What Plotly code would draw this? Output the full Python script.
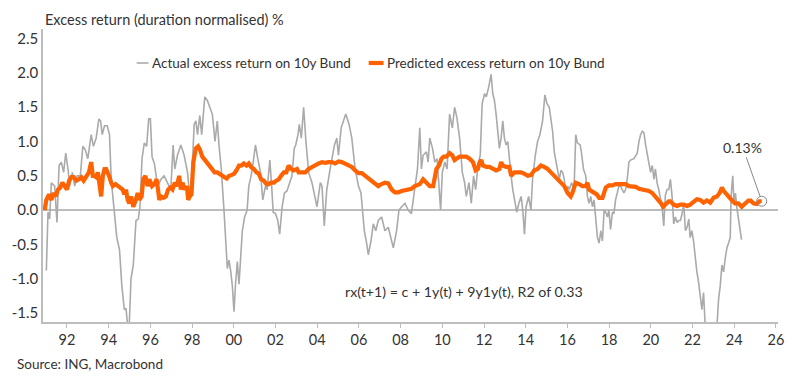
import plotly.graph_objects as go

# ---------------- data ----------------
actual_year = [
    1991.01, 1991.09, 1991.17, 1991.25, 1991.41, 1991.52, 1991.62, 1991.73, 1991.84, 1991.94,
    1992.05, 1992.13, 1992.26, 1992.37, 1992.49, 1992.64, 1992.76, 1992.88, 1993.00, 1993.16,
    1993.27, 1993.40, 1993.53, 1993.61, 1993.69, 1993.80, 1993.93, 1994.04, 1994.12, 1994.25,
    1994.39, 1994.52, 1994.63, 1994.75, 1994.83, 1994.91, 1994.99, 1995.07, 1995.18, 1995.31,
    1995.42, 1995.50, 1995.60, 1995.71, 1995.82, 1995.92, 1996.00, 1996.08, 1996.19, 1996.35,
    1996.51, 1996.66, 1996.82, 1996.98, 1997.09, 1997.17, 1997.30, 1997.46, 1997.62, 1997.78,
    1997.89, 1997.99, 1998.10, 1998.18, 1998.26, 1998.37, 1998.46, 1998.61, 1998.73, 1998.86,
    1998.97, 1999.10, 1999.21, 1999.29, 1999.40, 1999.53, 1999.61, 1999.69, 1999.77, 1999.85,
    1999.93, 2000.01, 2000.09, 2000.17, 2000.25, 2000.33, 2000.41, 2000.52, 2000.64, 2000.72,
    2000.83, 2000.93, 2001.04, 2001.15, 2001.28, 2001.39, 2001.52, 2001.60, 2001.73, 2001.81,
    2001.89, 2002.00, 2002.11, 2002.20, 2002.32, 2002.43, 2002.55, 2002.68, 2002.79, 2002.90,
    2002.97, 2003.08, 2003.14, 2003.24, 2003.35, 2003.46, 2003.59, 2003.75, 2003.99, 2004.15,
    2004.23, 2004.34, 2004.46, 2004.62, 2004.83, 2004.94, 2005.02, 2005.15, 2005.37, 2005.53,
    2005.66, 2005.82, 2005.98, 2006.10, 2006.26, 2006.38, 2006.45, 2006.58, 2006.69, 2006.81,
    2006.93, 2007.09, 2007.25, 2007.41, 2007.54, 2007.65, 2007.81, 2007.92, 2008.05, 2008.21,
    2008.36, 2008.52, 2008.65, 2008.81, 2008.92, 2009.00, 2009.08, 2009.24, 2009.32, 2009.40,
    2009.53, 2009.64, 2009.75, 2009.84, 2009.92, 2010.00, 2010.12, 2010.23, 2010.35, 2010.48,
    2010.59, 2010.70, 2010.83, 2010.96, 2011.07, 2011.15, 2011.28, 2011.39, 2011.50, 2011.60,
    2011.71, 2011.82, 2011.91, 2012.03, 2012.11, 2012.23, 2012.34, 2012.42, 2012.50, 2012.58,
    2012.66, 2012.74, 2012.82, 2012.90, 2012.98, 2013.06, 2013.14, 2013.22, 2013.30, 2013.38,
    2013.49, 2013.57, 2013.67, 2013.78, 2013.86, 2013.94, 2014.02, 2014.14, 2014.25, 2014.33,
    2014.46, 2014.57, 2014.68, 2014.81, 2014.92, 2015.02, 2015.13, 2015.21, 2015.29, 2015.37,
    2015.45, 2015.53, 2015.61, 2015.69, 2015.77, 2015.85, 2015.93, 2016.01, 2016.09, 2016.20,
    2016.32, 2016.40, 2016.48, 2016.61, 2016.67, 2016.77, 2016.88, 2016.96, 2017.04, 2017.12,
    2017.20, 2017.28, 2017.36, 2017.44, 2017.52, 2017.60, 2017.68, 2017.76, 2017.84, 2017.92,
    2017.99, 2018.07, 2018.16, 2018.23, 2018.31, 2018.39, 2018.47, 2018.55, 2018.63, 2018.71,
    2018.79, 2018.87, 2018.95, 2019.03, 2019.19, 2019.35, 2019.43, 2019.51, 2019.59, 2019.67,
    2019.75, 2019.83, 2019.91, 2019.99, 2020.07, 2020.15, 2020.22, 2020.30, 2020.38, 2020.46,
    2020.54, 2020.62, 2020.70, 2020.78, 2020.86, 2020.94, 2021.02, 2021.10, 2021.18, 2021.26,
    2021.34, 2021.42, 2021.50, 2021.58, 2021.66, 2021.74, 2021.82, 2021.89, 2021.97, 2022.05,
    2022.13, 2022.21, 2022.29, 2022.37, 2022.45, 2022.53, 2022.61, 2022.75, 2022.90, 2023.05,
    2023.17, 2023.25, 2023.33, 2023.41, 2023.49, 2023.57, 2023.65, 2023.73, 2023.81, 2023.85,
    2023.93, 2023.99, 2024.06, 2024.12, 2024.20, 2024.28, 2024.35,
]
actual_value = [
    -0.88, -0.03, -0.13, 0.40, 0.35, -0.18, 0.65, 0.70, 0.55, 0.83,
    0.60, 0.35, 0.55, 0.35, 0.50, 0.50, 0.93, 0.88, 0.75, 1.10,
    0.93, 1.05, 1.33, 1.30, 1.10, 1.23, 1.23, 1.10, 0.45, 0.00,
    -0.40, -0.58, -1.10, -1.45, -1.43, -1.68, -1.65, -1.00, -0.80, -0.15,
    -0.13, 0.05, 0.75, 0.98, 0.93, 1.33, 1.33, 0.78, 0.68, 0.35,
    0.45, 0.50, 0.40, 0.30, 0.95, 0.60, 0.80, 0.95, 0.80, 0.55,
    0.20, 0.50, 1.25, 1.30, 1.10, 1.38, 1.10, 1.65, 1.60, 1.50,
    1.40, 1.00, 1.30, 0.95, 0.60, 0.00, -0.40, -0.85, -0.73, -0.88,
    -1.10, -1.48, -1.05, -0.75, -1.08, -0.70, -0.30, -0.10, 0.00, 0.35,
    0.50, 0.70, 0.95, 0.75, 0.55, 0.15, 0.35, 0.30, 0.73, 0.38,
    -0.03, -0.05, -0.15, -0.35, 0.05, 0.25, 0.28, 0.40, 0.50, 0.90,
    0.95, 1.10, 1.25, 1.05, 1.50, 1.00, 0.55, 0.40, 0.05, 0.40,
    0.35, -0.23, 0.30, 0.60, 0.95, 1.05, 0.80, 1.20, 1.40, 1.25,
    1.05, 0.60, 0.35, 0.25, -0.30, -0.50, -0.65, -0.45, -0.20, -0.30,
    -0.15, -0.10, -0.30, -0.25, -0.40, -0.55, -0.30, 0.00, 0.05, 0.10,
    0.00, -0.05, 0.25, 0.60, 1.20, 0.60, 0.80, 0.85, 0.70, 1.05,
    0.90, 0.70, 0.75, 0.35, 0.00, 0.55, 0.70, 0.60, 1.40, 1.20,
    1.50, 1.35, 1.05, 0.55, 0.40, 0.20, 0.40, 0.10, 0.50, 0.30,
    0.65, 0.80, 1.55, 1.70, 1.65, 1.80, 1.98, 1.70, 1.60, 1.40,
    1.10, 0.90, 1.05, 1.30, 1.05, 0.95, 1.00, 0.70, 0.50, 0.30,
    0.10, -0.03, 0.10, 0.20, 0.00, -0.35, 0.05, 0.20, 0.00, 0.45,
    0.80, 1.00, 1.10, 1.30, 1.68, 1.55, 1.50, 1.35, 1.15, 0.85,
    0.70, 0.55, 0.45, 0.58, 0.55, 0.45, 0.25, 0.35, 0.30, 0.40,
    0.30, 1.10, 0.98, 0.95, 0.85, 0.60, 0.50, 0.20, 0.10, 0.20,
    0.05, 0.15, -0.10, -0.40, -0.48, -0.30, -0.45, 0.00, -0.03, -0.10,
    0.00, -0.28, -0.03, -0.05, 0.15, 0.25, 0.35, 0.35, 0.30, 0.25,
    0.30, 0.45, 0.70, 0.73, 0.75, 0.83, 1.00, 1.10, 1.15, 1.13,
    0.95, 0.80, 0.70, 0.55, 0.65, 0.45, 0.60, 0.40, 0.30, 0.15,
    0.05, -0.23, 0.22, 0.30, 0.30, 0.45, 0.20, -0.20, -0.10, -0.18,
    -0.15, -0.15, -0.05, 0.10, -0.30, -0.25, -0.13, -0.40, -0.30, -0.45,
    -0.70, -0.90, -1.05, -1.25, -1.45, -1.20, -1.70, -2.10, -2.25, -2.00,
    -1.70, -1.30, -1.10, -0.80, -0.90, -0.70, -0.55, -0.48, -0.40, 0.20,
    0.50, 0.10, 0.25, 0.05, -0.10, -0.30, -0.43,
]

pred_year = [
    1990.93, 1991.01, 1991.14, 1991.25, 1991.36, 1991.46, 1991.57, 1991.68, 1991.78, 1991.89,
    1992.00, 1992.10, 1992.21, 1992.32, 1992.45, 1992.57, 1992.69, 1992.80, 1992.92, 1993.05,
    1993.16, 1993.24, 1993.32, 1993.40, 1993.48, 1993.56, 1993.64, 1993.72, 1993.80, 1993.88,
    1993.96, 1994.04, 1994.12, 1994.20, 1994.33, 1994.44, 1994.55, 1994.67, 1994.75, 1994.83,
    1994.91, 1994.99, 1995.07, 1995.18, 1995.28, 1995.39, 1995.47, 1995.58, 1995.66, 1995.76,
    1995.87, 1995.95, 1996.08, 1996.19, 1996.30, 1996.43, 1996.51, 1996.62, 1996.74, 1996.85,
    1996.95, 1997.06, 1997.17, 1997.27, 1997.38, 1997.46, 1997.54, 1997.65, 1997.75, 1997.81,
    1997.89, 1997.97, 1998.06, 1998.18, 1998.29, 1998.38, 1998.49, 1998.61, 1998.73, 1998.86,
    1998.97, 1999.08, 1999.21, 1999.34, 1999.45, 1999.56, 1999.66, 1999.77, 1999.88, 2000.01,
    2000.13, 2000.25, 2000.36, 2000.48, 2000.61, 2000.72, 2000.83, 2000.96, 2001.09, 2001.20,
    2001.31, 2001.44, 2001.57, 2001.68, 2001.79, 2001.92, 2002.04, 2002.16, 2002.27, 2002.40,
    2002.52, 2002.63, 2002.75, 2002.87, 2003.03, 2003.11, 2003.27, 2003.43, 2003.59, 2003.75,
    2003.91, 2004.07, 2004.23, 2004.39, 2004.54, 2004.70, 2004.86, 2005.02, 2005.18, 2005.34,
    2005.50, 2005.66, 2005.82, 2005.98, 2006.14, 2006.30, 2006.45, 2006.61, 2006.77, 2006.93,
    2007.09, 2007.25, 2007.41, 2007.57, 2007.73, 2007.89, 2008.05, 2008.21, 2008.36, 2008.52,
    2008.68, 2008.84, 2008.92, 2009.08, 2009.24, 2009.40, 2009.56, 2009.72, 2009.84, 2009.96,
    2010.07, 2010.20, 2010.35, 2010.48, 2010.59, 2010.70, 2010.83, 2010.99, 2011.15, 2011.31,
    2011.47, 2011.60, 2011.71, 2011.79, 2011.87, 2011.95, 2012.11, 2012.26, 2012.42, 2012.58,
    2012.74, 2012.82, 2012.90, 2013.06, 2013.22, 2013.30, 2013.46, 2013.62, 2013.78, 2013.94,
    2014.10, 2014.25, 2014.41, 2014.57, 2014.73, 2014.89, 2015.05, 2015.21, 2015.37, 2015.53,
    2015.69, 2015.85, 2016.01, 2016.16, 2016.24, 2016.32, 2016.40, 2016.56, 2016.72, 2016.88,
    2016.96, 2017.04, 2017.15, 2017.28, 2017.41, 2017.52, 2017.68, 2017.84, 2017.99, 2018.16,
    2018.31, 2018.47, 2018.63, 2018.79, 2018.95, 2019.11, 2019.27, 2019.43, 2019.59, 2019.75,
    2019.91, 2020.07, 2020.22, 2020.38, 2020.49, 2020.59, 2020.70, 2020.86, 2020.94, 2021.10,
    2021.26, 2021.42, 2021.58, 2021.74, 2021.89, 2022.05, 2022.21, 2022.37, 2022.53, 2022.69,
    2022.85, 2023.01, 2023.17, 2023.30, 2023.41, 2023.49, 2023.57, 2023.65, 2023.81, 2023.93,
    2024.04, 2024.20, 2024.36, 2024.52, 2024.68, 2024.79, 2024.92, 2025.08, 2025.21, 2025.32,
]
pred_value = [
    0.00, 0.15, 0.23, 0.15, 0.25, 0.20, 0.30, 0.33, 0.40, 0.35,
    0.30, 0.43, 0.48, 0.48, 0.43, 0.45, 0.48, 0.43, 0.50, 0.55,
    0.70, 0.50, 0.50, 0.48, 0.55, 0.40, 0.20, 0.50, 0.60, 0.60,
    0.55, 0.48, 0.40, 0.35, 0.38, 0.35, 0.33, 0.30, 0.23, 0.30,
    0.15, 0.10, 0.20, 0.05, 0.13, 0.25, 0.15, 0.20, 0.45, 0.50,
    0.35, 0.45, 0.35, 0.38, 0.45, 0.15, 0.20, 0.18, 0.20, 0.30,
    0.33, 0.30, 0.40, 0.35, 0.50, 0.30, 0.40, 0.30, 0.35, 0.15,
    0.20, 0.23, 0.70, 0.90, 0.93, 0.88, 0.78, 0.73, 0.68, 0.65,
    0.60, 0.55, 0.55, 0.53, 0.50, 0.48, 0.46, 0.50, 0.51, 0.53,
    0.58, 0.65, 0.65, 0.68, 0.65, 0.68, 0.63, 0.60, 0.55, 0.53,
    0.45, 0.43, 0.38, 0.38, 0.40, 0.40, 0.43, 0.45, 0.50, 0.55,
    0.55, 0.65, 0.60, 0.58, 0.60, 0.55, 0.55, 0.55, 0.60, 0.63,
    0.65, 0.68, 0.70, 0.69, 0.70, 0.70, 0.68, 0.71, 0.70, 0.68,
    0.65, 0.63, 0.58, 0.54, 0.54, 0.50, 0.45, 0.43, 0.38, 0.35,
    0.38, 0.40, 0.39, 0.30, 0.26, 0.26, 0.28, 0.29, 0.30, 0.31,
    0.35, 0.38, 0.38, 0.45, 0.40, 0.35, 0.35, 0.60, 0.65, 0.75,
    0.78, 0.78, 0.83, 0.80, 0.73, 0.75, 0.78, 0.78, 0.78, 0.75,
    0.70, 0.58, 0.60, 0.70, 0.73, 0.65, 0.63, 0.63, 0.60, 0.58,
    0.60, 0.70, 0.65, 0.63, 0.63, 0.50, 0.55, 0.55, 0.55, 0.53,
    0.50, 0.51, 0.58, 0.60, 0.65, 0.63, 0.60, 0.55, 0.50, 0.45,
    0.40, 0.35, 0.25, 0.20, 0.25, 0.35, 0.40, 0.38, 0.35, 0.35,
    0.40, 0.30, 0.28, 0.25, 0.23, 0.18, 0.18, 0.33, 0.36, 0.36,
    0.38, 0.38, 0.38, 0.38, 0.35, 0.35, 0.34, 0.31, 0.30, 0.29,
    0.28, 0.25, 0.20, 0.15, 0.10, 0.05, 0.08, 0.13, 0.13, 0.08,
    0.06, 0.08, 0.08, 0.06, 0.08, 0.13, 0.16, 0.15, 0.11, 0.14,
    0.11, 0.18, 0.20, 0.25, 0.33, 0.28, 0.25, 0.23, 0.18, 0.13,
    0.10, 0.10, 0.05, 0.10, 0.14, 0.14, 0.10, 0.09, 0.13, 0.13,
]

tick_years = [1992, 1994, 1996, 1998, 2000, 2002, 2004, 2006, 2008, 2010, 2012,
              2014, 2016, 2018, 2020, 2022, 2024, 2026]
tick_labels = ["92", "94", "96", "98", "00", "02", "04", "06", "08", "10", "12",
               "14", "16", "18", "20", "22", "24", "26"]
y_ticks = [-1.5, -1.0, -0.5, 0.0, 0.5, 1.0, 1.5, 2.0, 2.5]
y_labels = ["-1.5", "-1.0", "-0.5", "0.0", "0.5", "1.0", "1.5", "2.0", "2.5"]

series_names = ["Actual excess return on 10y Bund", "Predicted excess return on 10y Bund"]
title_text = "Excess return (duration normalised) %"
source_text = "Source: ING, Macrobond"
equation_text = "rx(t+1) = c + 1y(t) + 9y1y(t), R2 of 0.33"
last_label = "0.13%"

FONT = "Lato, 'Open Sans', sans-serif"
TXT = "#333333"
GRID = "#bdbdbd"
ORANGE = "#FF6200"
GRAY = "#aaaaaa"
series_colors = [GRAY, ORANGE]
series_widths = [1.6, 4.2]

fig = go.Figure()
for yrs, vals, nm, col, w in zip([actual_year, pred_year], [actual_value, pred_value],
                                  series_names, series_colors, series_widths):
    fig.add_trace(go.Scatter(x=yrs, y=vals, mode="lines", name=nm, showlegend=False,
                             line=dict(color=col, width=w)))
# circle highlighting the latest prediction
fig.add_trace(go.Scatter(x=[pred_year[-1]], y=[pred_value[-1]], mode="markers",
                         showlegend=False,
                         marker=dict(symbol="circle-open", size=10, color="#888888",
                                     line=dict(width=1))))

# legend drawn as short line samples + text (as in the reference)
legend_y = 0.884
legend_sample_x = [(0.1274, 0.1436), (0.4431, 0.4634)]
legend_text_x = [0.1450, 0.4647]
shapes = []
annotations = []
for (x0, x1), tx, nm, col, w in zip(legend_sample_x, legend_text_x, series_names,
                                     series_colors, series_widths):
    shapes.append(dict(type="line", xref="paper", yref="paper", x0=x0, x1=x1,
                       y0=legend_y, y1=legend_y, line=dict(color=col, width=w)))
    annotations.append(dict(text=nm, xref="paper", yref="paper", x=tx, y=legend_y,
                            xanchor="left", yanchor="middle", showarrow=False,
                            font=dict(size=13.5, color=TXT)))

annotations += [
    dict(text=title_text, xref="paper", yref="paper", x=0.0, y=1.0,
         xanchor="left", yanchor="bottom", yshift=-1, showarrow=False,
         font=dict(size=14.5, color=TXT)),
    dict(text=source_text, xref="paper", yref="paper", x=-0.038, y=-0.11,
         xanchor="left", yanchor="top", showarrow=False,
         font=dict(size=13.5, color=TXT)),
    dict(text=equation_text, xref="x", yref="y", x=2011.05, y=-1.18,
         xanchor="center", yanchor="middle", showarrow=False,
         font=dict(size=14.2, color=TXT)),
    dict(text=last_label, xref="x", yref="y", x=pred_year[-1], y=pred_value[-1],
         showarrow=True, arrowhead=0, arrowwidth=1, arrowcolor="#888888",
         ax=-19, ay=-54, standoff=5, font=dict(size=14, color=TXT)),
]

fig.update_layout(
    width=800, height=384,
    margin=dict(l=40, r=22, t=29, b=62),
    paper_bgcolor="white", plot_bgcolor="white",
    font=dict(family=FONT, color=TXT, size=14),
    showlegend=False,
    xaxis=dict(range=[1990.85, 2026.1], tickvals=tick_years, ticktext=tick_labels,
               showgrid=False, zeroline=False, showline=True, linecolor=GRID,
               linewidth=1.5, ticks="outside", ticklen=4, tickcolor=GRID,
               tickfont=dict(size=14.5, color=TXT)),
    yaxis=dict(range=[-1.63, 2.64], tickvals=y_ticks, ticktext=y_labels,
               showgrid=False, zeroline=True, zerolinecolor=GRID, zerolinewidth=1.5,
               showline=True, linecolor=GRID, linewidth=1.5, ticks="",
               tickfont=dict(size=15, color=TXT)),
    shapes=shapes,
    annotations=annotations,
)

fig.write_html(
    "out.html",
    config={"displayModeBar": False},
    post_script="document.body.style.margin='0';document.body.style.overflow='hidden';",
)
